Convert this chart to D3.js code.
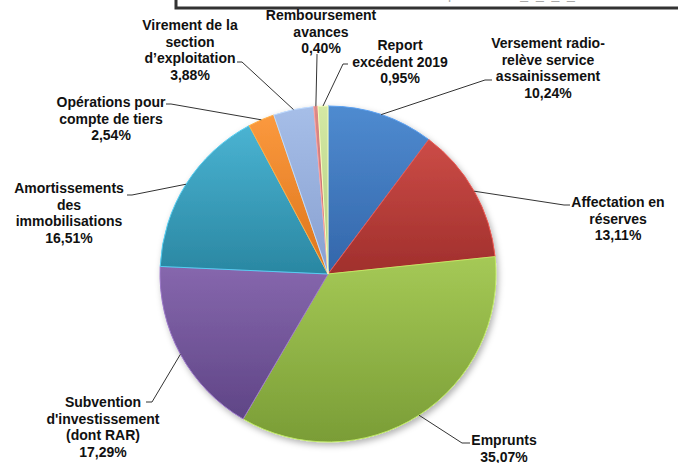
<!DOCTYPE html>
<html>
<head>
<meta charset="utf-8">
<script src="https://cdn.jsdelivr.net/npm/d3@7"></script>
<style>
  body { margin: 0; background: #fff; }
  svg { display: block; }
  .lbl { font-family: "Liberation Sans", Arial, sans-serif; font-weight: bold; font-size: 14px; fill: #111; }
</style>
</head>
<body>
<div id="chart"></div>
<script>
// slices, clockwise from 12 o'clock
var categories = [
  'Versement radio-relève service assainissement',
  'Affectation en réserves',
  'Emprunts',
  "Subvention d'investissement (dont RAR)",
  'Amortissements des immobilisations',
  'Opérations pour compte de tiers',
  "Virement de la section d’exploitation",
  'Remboursement avances',
  'Report excédent 2019'
];
var values = [10.24, 13.11, 35.07, 17.29, 16.51, 2.54, 3.88, 0.40, 0.95];
var valueLabels = ['10,24%', '13,11%', '35,07%', '17,29%', '16,51%', '2,54%', '3,88%', '0,40%', '0,95%'];
// label text split the way the original wraps it
var labelLines = [
  ['Versement radio-', 'relève service', 'assainissement'],
  ['Affectation en', 'réserves'],
  ['Emprunts'],
  ['Subvention', "d'investissement", '(dont RAR)'],
  ['Amortissements', 'des', 'immobilisations'],
  ['Opérations pour', 'compte de tiers'],
  ['Virement de la', 'section', 'd’exploitation'],
  ['Remboursement', 'avances'],
  ['Report', 'excédent 2019']
];
// [light, dark] gradient stops for each slice
var colors = [
  ['#4f8bd0', '#3366aa'],
  ['#cc4c47', '#a02f2c'],
  ['#a5c956', '#7a9d36'],
  ['#8667ad', '#5f4586'],
  ['#4ab3d2', '#2a87a2'],
  ['#fb993e', '#dc741b'],
  ['#a6bee8', '#88a0d0'],
  ['#dc8a88', '#bb6664'],
  ['#d4e9a4', '#b2cb80']
];

var w = 678, h = 463;
var cx = 328, cy = 274, radius = 168;
var lineH = 16.5;

// label placement: [centre x, first baseline, elbow x, elbow y, end x, end y]
var labelPos = [
  [548, 48, 485, 80, 492, 80],
  [618, 207, 564, 205, 570, 205],
  [504, 445, 462, 443, 470, 443],
  [103, 407, 152, 402, 146, 402],
  [69, 193, 132, 195, 127, 195],
  [111, 107, 171, 104, 166, 104],
  [190, 30, 242, 62, 237, 62],
  [321, 20, 317, 56, 317, 54],
  [400, 50, 343, 64, 348, 64]
];

var svg = d3.select('#chart').append('svg')
  .attr('width', w)
  .attr('height', h);

var defs = svg.append('defs');

var shadow = defs.append('filter').attr('id', 'shadow')
  .attr('x', '-10%').attr('y', '-10%').attr('width', '125%').attr('height', '125%');
shadow.append('feDropShadow')
  .attr('dx', 2).attr('dy', 3).attr('stdDeviation', 3)
  .attr('flood-color', '#000').attr('flood-opacity', 0.3);

colors.forEach(function (c, i) {
  var g = defs.append('linearGradient').attr('id', 'grad' + i)
    .attr('x1', 0).attr('y1', 0).attr('x2', 0).attr('y2', 1);
  g.append('stop').attr('offset', '0%').attr('stop-color', c[0]);
  g.append('stop').attr('offset', '100%').attr('stop-color', c[1]);
});

// title box, mostly outside the picture
var titleBox = svg.append('g');
titleBox.append('rect')
  .attr('x', 176).attr('y', -20)
  .attr('width', 520).attr('height', 28)
  .attr('fill', '#fff')
  .attr('stroke', '#333')
  .attr('stroke-width', 3);
defs.append('clipPath').attr('id', 'boxclip')
  .append('rect').attr('x', 178).attr('y', 0).attr('width', 500).attr('height', 6);
titleBox.append('text')
  .attr('class', 'lbl')
  .attr('x', 420).attr('y', -1)
  .attr('text-anchor', 'middle')
  .attr('clip-path', 'url(#boxclip)')
  .style('fill', '#aaa')
  .style('font-weight', 'normal')
  .text('Recettes d’investissement – répartition BP_2_0_2_0');

var pie = d3.pie().sort(null).value(function (d) { return d; });
var arcs = pie(values);

var arc = d3.arc().innerRadius(0).outerRadius(radius);

var pieG = svg.append('g')
  .attr('transform', 'translate(' + cx + ',' + cy + ')');

var slices = pieG.append('g').attr('filter', 'url(#shadow)');
slices.selectAll('path.slice')
  .data(arcs)
  .enter().append('path')
  .attr('class', 'slice')
  .attr('d', arc)
  .attr('fill', function (d, i) { return 'url(#grad' + i + ')'; })
  .attr('stroke', function (d, i) { return d3.color(colors[i][0]).brighter(0.4); })
  .attr('stroke-width', 1);

// leader lines from the middle of each slice's rim to the label
svg.append('g').selectAll('polyline')
  .data(arcs)
  .enter().append('polyline')
  .attr('fill', 'none')
  .attr('stroke', '#333')
  .attr('stroke-width', 1)
  .attr('points', function (d, i) {
    var a = (d.startAngle + d.endAngle) / 2;
    var p0 = [cx + radius * Math.sin(a), cy - radius * Math.cos(a)];
    var lp = labelPos[i];
    return [p0, [lp[2], lp[3]], [lp[4], lp[5]]].map(function (p) { return p.join(','); }).join(' ');
  });

var labels = svg.append('g').selectAll('text')
  .data(categories)
  .enter().append('text')
  .attr('class', 'lbl')
  .attr('text-anchor', 'middle');

labels.each(function (d, i) {
  var t = d3.select(this);
  var lines = labelLines[i].concat([valueLabels[i]]);
  lines.forEach(function (s, k) {
    t.append('tspan')
      .attr('x', labelPos[i][0])
      .attr('y', labelPos[i][1] + k * lineH)
      .text(s);
  });
});
</script>
</body>
</html>
